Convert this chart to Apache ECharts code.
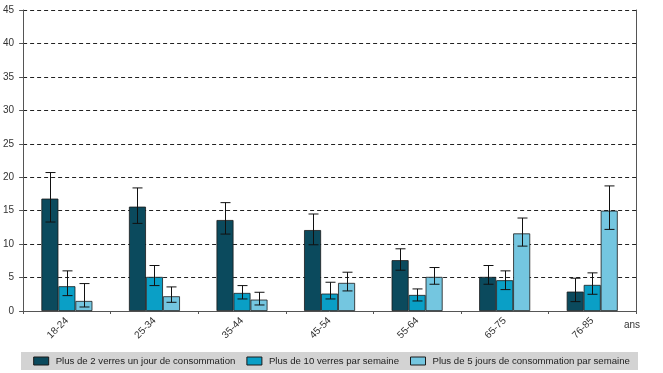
<!DOCTYPE html>
<html><head><meta charset="utf-8">
<script src="https://cdn.jsdelivr.net/npm/echarts@6/dist/echarts.min.js"></script>
<style>html,body{margin:0;padding:0;background:#fff}#c{width:663px;height:373px}</style>
</head><body><div id="c"></div>
<script>
var categories = ['18-24','25-34','35-44','45-54','55-64','65-75','76-85'];
var seriesNames = ['Plus de 2 verres un jour de consommation','Plus de 10 verres par semaine','Plus de 5 jours de consommation par semaine'];
var yTicks = [0,5,10,15,20,25,30,35,40,45];

var valuesA = [16.8, 15.6, 13.6, 12.1, 7.6, 5.1, 2.9];
var lowA    = [13.3, 13.1, 11.5, 9.9, 6.1, 4.0, 1.4];
var highA   = [20.7, 18.4, 16.2, 14.5, 9.3, 6.8, 4.9];

var valuesB = [3.7, 5.1, 2.7, 2.6, 2.4, 4.6, 3.9];
var lowB    = [2.3, 3.8, 1.8, 1.8, 1.5, 3.2, 2.5];
var highB   = [6.0, 6.8, 3.8, 4.3, 3.3, 6.0, 5.7];

var valuesC = [1.5, 2.2, 1.7, 4.2, 5.1, 11.6, 15.0];
var lowC    = [0.6, 1.3, 0.9, 3.0, 4.0, 9.7, 12.2];
var highC   = [4.1, 3.6, 2.8, 5.8, 6.5, 13.9, 18.7];

var colors = ['#0b4a5d', '#0a9fc6', '#74c6e0'];
var FONT = "'Liberation Sans Narrow','Arial Narrow','Liberation Sans',Arial,sans-serif";
var BW = 17;

function errSeries(low, high, idx) {
  var data = categories.map(function (c, i) { return [i, low[i], high[i]]; });
  return {
    type: 'custom', silent: true, z: 5,
    data: data,
    encode: {x: 0, y: [1, 2]},
    renderItem: function (params, api) {
      var lo = api.coord([api.value(0), api.value(1)]);
      var hi = api.coord([api.value(0), api.value(2)]);
      var x = Math.round(lo[0] + (idx - 1) * BW) + 0.5;
      var cw = 5;
      var st = {stroke: '#111', lineWidth: 1};
      return {type: 'group', children: [
        {type: 'line', shape: {x1: x, y1: hi[1], x2: x, y2: lo[1]}, style: st},
        {type: 'line', shape: {x1: x - cw, y1: hi[1], x2: x + cw, y2: hi[1]}, style: st},
        {type: 'line', shape: {x1: x - cw, y1: lo[1], x2: x + cw, y2: lo[1]}, style: st}
      ]};
    }
  };
}

function barSeries(name, vals, idx) {
  return {
    name: name, type: 'bar', data: vals, barWidth: BW, barGap: '0%',
    itemStyle: {color: colors[idx], borderColor: '#1a1a1a', borderWidth: 0.8}
  };
}

var chart = echarts.init(document.getElementById('c'));
chart.setOption({
  animation: false,
  textStyle: {fontFamily: FONT},
  grid: {left: 22, right: 27, top: 10, bottom: 62, containLabel: false},
  graphic: [{
    type: 'rect', left: 21, bottom: 3, z: -1,
    shape: {width: 617, height: 18},
    style: {fill: '#d3d3d3'}
  }],
  legend: {
    data: seriesNames.map(function (n, i) { return {name: n, itemStyle: {color: colors[i], borderColor: '#1a1a1a', borderWidth: 1}}; }),
    left: 'center', bottom: 7,
    padding: 0,
    itemWidth: 15, itemHeight: 8, itemGap: 11,
    icon: 'rect',
    textStyle: {fontFamily: FONT, fontSize: 9.6, color: '#222', padding: [0, 0, 0, 2]}
  },
  xAxis: {
    type: 'category', data: categories,
    name: 'ans', nameLocation: 'end', nameGap: -12,
    nameTextStyle: {fontFamily: FONT, fontSize: 10, color: '#333', verticalAlign: 'top', padding: [9, 0, 0, 0]},
    axisLine: {show: true, lineStyle: {color: '#555', width: 1}},
    axisTick: {show: true, length: 3, lineStyle: {color: '#555'}},
    axisLabel: {rotate: 45, fontSize: 10, color: '#333', margin: 8, fontFamily: FONT},
    splitLine: {show: false}
  },
  yAxis: [
    {
      type: 'value', min: 0, max: 45, interval: 5,
      axisLine: {show: true, lineStyle: {color: '#555', width: 1}},
      axisTick: {show: true, length: 4, lineStyle: {color: '#555'}},
      axisLabel: {fontSize: 10, color: '#333', margin: 9, fontFamily: FONT,
        formatter: function (v) { return yTicks.indexOf(v) >= 0 ? String(v) : ''; }},
      splitLine: {show: true, lineStyle: {color: '#222', type: [4, 3], width: 1}}
    },
    {
      type: 'value', min: 0, max: 45, interval: 5, position: 'right',
      axisLine: {show: true, lineStyle: {color: '#555', width: 1}},
      axisTick: {show: false}, axisLabel: {show: false}, splitLine: {show: false}
    }
  ],
  series: [
    barSeries(seriesNames[0], valuesA, 0),
    barSeries(seriesNames[1], valuesB, 1),
    barSeries(seriesNames[2], valuesC, 2),
    errSeries(lowA, highA, 0),
    errSeries(lowB, highB, 1),
    errSeries(lowC, highC, 2),
    {type: 'line', data: [], yAxisIndex: 1, silent: true}
  ]
});
</script></body></html>
